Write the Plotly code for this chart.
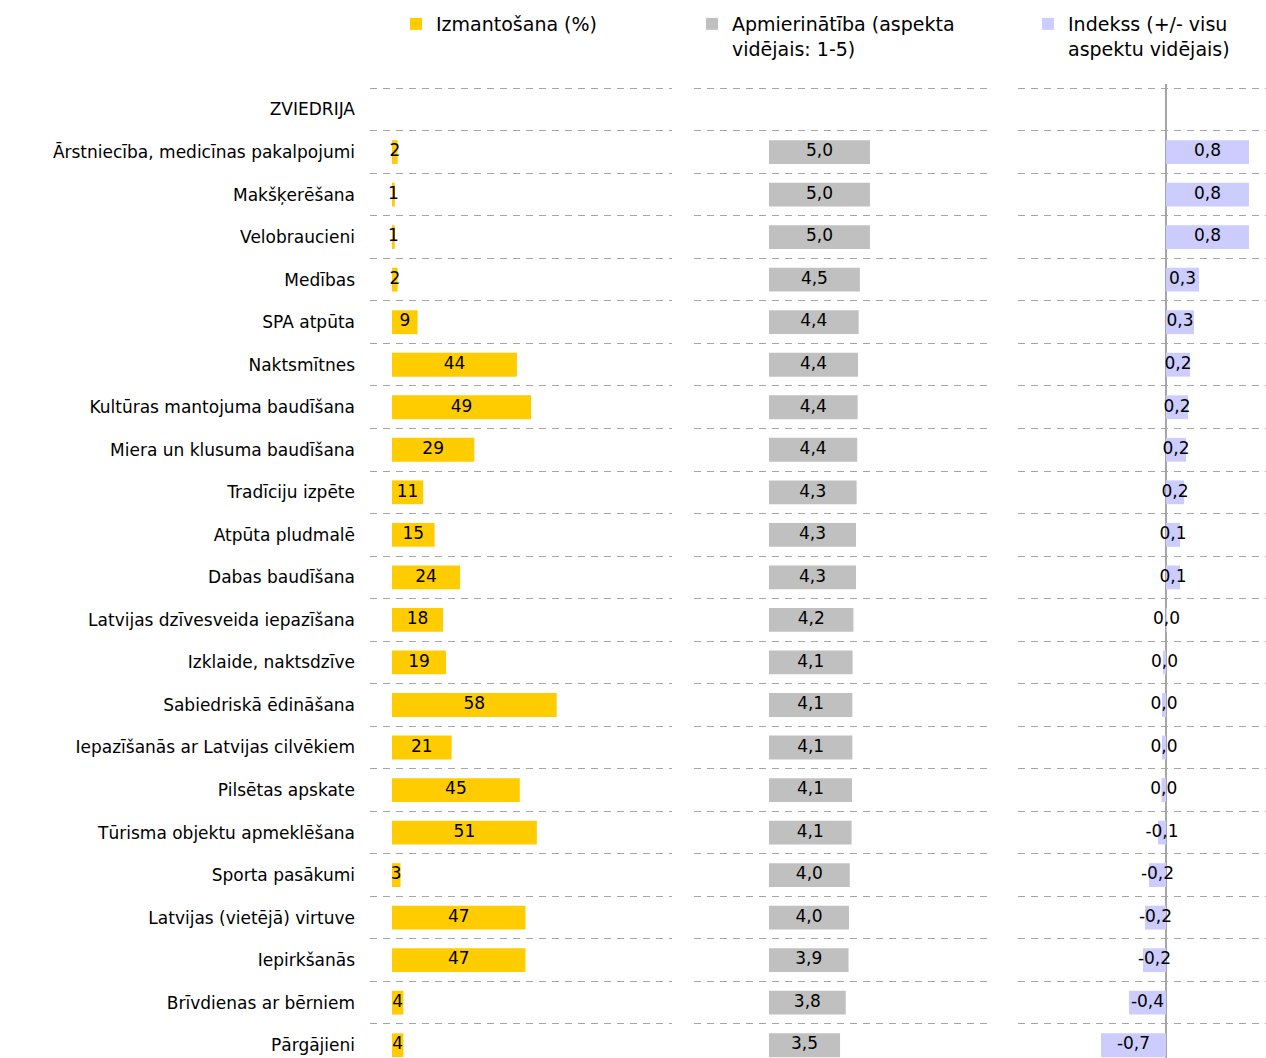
import plotly.graph_objects as go

group_label = "ZVIEDRIJA"
categories = [
    "Ārstniecība, medicīnas pakalpojumi", "Makšķerēšana", "Velobraucieni", "Medības",
    "SPA atpūta", "Naktsmītnes", "Kultūras mantojuma baudīšana", "Miera un klusuma baudīšana",
    "Tradīciju izpēte", "Atpūta pludmalē", "Dabas baudīšana", "Latvijas dzīvesveida iepazīšana",
    "Izklaide, naktsdzīve", "Sabiedriskā ēdināšana", "Iepazīšanās ar Latvijas cilvēkiem",
    "Pilsētas apskate", "Tūrisma objektu apmeklēšana", "Sporta pasākumi",
    "Latvijas (vietējā) virtuve", "Iepirkšanās", "Brīvdienas ar bērniem", "Pārgājieni",
]
usage = [2, 1, 1, 2, 9, 44, 49, 29, 11, 15, 24, 18, 19, 58, 21, 45, 51, 3, 47, 47, 4, 4]
satisfaction = [5.0, 5.0, 5.0, 4.50, 4.44, 4.41, 4.39, 4.37, 4.34, 4.31, 4.31, 4.18, 4.14, 4.13,
                4.13, 4.11, 4.09, 4.00, 3.96, 3.94, 3.80, 3.52]
index_vals = [0.83, 0.83, 0.83, 0.33, 0.28, 0.24, 0.22, 0.20, 0.18, 0.14, 0.14, 0.01, -0.03, -0.04,
              -0.04, -0.045, -0.08, -0.17, -0.21, -0.23, -0.37, -0.65]

series_names = ["Izmantošana (%)", "Apmierinātība (aspekta<br>vidējais: 1-5)",
                "Indekss (+/- visu<br>aspektu vidējais)"]
colors = ["#FFCC00", "#C0C0C0", "#CCCCFF"]

rows = list(range(1, len(categories) + 1))
tick_vals = [0] + rows
tick_text = [group_label] + categories


def fmt1(v):
    s = f"{v:.1f}".replace(".", ",")
    return "0,0" if s == "-0,0" else s


labels = [
    [str(v) for v in usage],
    [fmt1(v) for v in satisfaction],
    [fmt1(v) for v in index_vals],
]
values = [usage, satisfaction, index_vals]
xaxes = ["x", "x2", "x3"]
legends = ["legend", "legend2", "legend3"]

FONT = "Verdana, DejaVu Sans, sans-serif"
fig = go.Figure()
for k in range(3):
    fig.add_trace(go.Bar(
        x=values[k], y=rows, orientation="h", width=0.56,
        marker=dict(color=colors[k], line=dict(width=0)),
        name=series_names[k], xaxis=xaxes[k], yaxis="y", legend=legends[k],
        hoverinfo="skip",
    ))
    fig.add_trace(go.Scatter(
        x=[v / 2 for v in values[k]], y=rows, mode="text", text=labels[k],
        textposition="middle center",
        textfont=dict(family=FONT, size=17, color="#000000"),
        xaxis=xaxes[k], yaxis="y", showlegend=False, hoverinfo="skip",
    ))

W, H = 1266, 1058
TOP = 84


def px(x):
    return x / W


grid = dict(showgrid=True, gridcolor="#A6A6A6", griddash="7px,6px", gridwidth=1,
            tickmode="array", tickvals=[i - 0.5 for i in range(0, 24)], ticks="")

fig.update_layout(
    width=W, height=H,
    margin=dict(l=0, r=0, t=TOP, b=0, autoexpand=False),
    paper_bgcolor="white", plot_bgcolor="white",
    font=dict(family=FONT, size=17, color="#000000"),
    barmode="overlay",
    xaxis=dict(domain=[px(370), px(672)], range=[-7.75, 98.6], showgrid=False, zeroline=False,
               showticklabels=False, ticks="", fixedrange=True),
    xaxis2=dict(domain=[px(694), px(992)], range=[-3.71, 11.04], showgrid=False, zeroline=False,
                showticklabels=False, ticks="", anchor="y", fixedrange=True),
    xaxis3=dict(domain=[px(1018), 1.0], range=[-1.48, 1.0], showgrid=False, zeroline=True,
                zerolinecolor="#A6A6A6", zerolinewidth=1.5, showticklabels=False, ticks="",
                anchor="y", fixedrange=True),
    yaxis=dict(range=[22.3, -0.6], tickmode="array", tickvals=tick_vals, ticktext=tick_text,
               showgrid=False, zeroline=False, ticks="", ticklabelstandoff=14,
               tickfont=dict(family=FONT, size=17, color="#000000"), automargin=False,
               minor=grid, anchor="x", domain=[0, 1], fixedrange=True),
    showlegend=True,
)

leg_common = dict(orientation="v", xanchor="left", yanchor="top", y=1 + (TOP - 5) / (H - TOP),
                  font=dict(family=FONT, size=19, color="#000000"), valign="top",
                  bgcolor="rgba(0,0,0,0)", itemwidth=30, tracegroupgap=0, borderwidth=0)
fig.update_layout(
    legend=dict(x=px(396), **leg_common),
    legend2=dict(x=px(692), **leg_common),
    legend3=dict(x=px(1028), **leg_common),
)

fig.write_html("out.html", config={"displayModeBar": False},
               post_script="document.body.style.margin='0';")
